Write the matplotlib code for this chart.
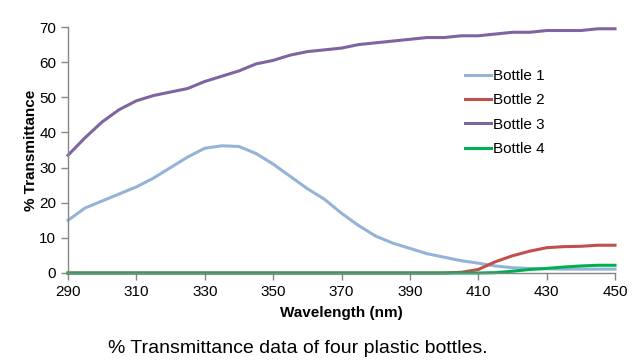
import matplotlib
matplotlib.use('Agg')
import matplotlib.pyplot as plt

# Wellenlängen (nm), 5-nm-Schritte
wavelength = [290, 295, 300, 305, 310, 315, 320, 325, 330, 335, 340, 345, 350,
              355, 360, 365, 370, 375, 380, 385, 390, 395, 400, 405, 410, 415,
              420, 425, 430, 435, 440, 445, 450]

bottle1 = [15.0, 18.5, 20.5, 22.5, 24.5, 27.0, 30.0, 33.0, 35.5, 36.2, 36.0, 34.0, 31.0,
           27.5, 24.0, 21.0, 17.0, 13.5, 10.5, 8.5, 7.0, 5.5, 4.5, 3.5, 2.8, 2.0,
           1.5, 1.3, 1.2, 1.1, 1.1, 1.1, 1.1]
bottle2 = [0, 0, 0, 0, 0, 0, 0, 0, 0, 0, 0, 0, 0,
           0, 0, 0, 0, 0, 0, 0, 0, 0, 0, 0.2, 1.0, 3.2,
           4.9, 6.2, 7.2, 7.5, 7.6, 7.9, 7.9]
bottle3 = [33.5, 38.5, 43.0, 46.5, 49.0, 50.5, 51.5, 52.5, 54.5, 56.0, 57.5, 59.5, 60.5,
           62.0, 63.0, 63.5, 64.0, 65.0, 65.5, 66.0, 66.5, 67.0, 67.0, 67.5, 67.5, 68.0,
           68.5, 68.5, 69.0, 69.0, 69.0, 69.5, 69.5]
bottle4 = [0, 0, 0, 0, 0, 0, 0, 0, 0, 0, 0, 0, 0,
           0, 0, 0, 0, 0, 0, 0, 0, 0, 0, 0, 0, 0.1,
           0.5, 1.0, 1.3, 1.7, 2.0, 2.2, 2.2]

series = [('Bottle 1', bottle1, '#95B3D7'),
          ('Bottle 2', bottle2, '#C0504D'),
          ('Bottle 3', bottle3, '#8064A2'),
          ('Bottle 4', bottle4, '#00B050')]

plt.rcParams['font.family'] = ['Liberation Sans', 'DejaVu Sans']

fig = plt.figure(figsize=(6.33, 3.64), dpi=100)
ax = fig.add_axes([0.1074, 0.25, 0.8642, 0.6758])

for name, vals, color in series:
    ax.plot(wavelength, vals, color=color, lw=2.2, label=name, clip_on=False)

ax.set_xlim(290, 450)
ax.set_ylim(0, 70)
ax.set_xticks(range(290, 451, 20))
ax.set_yticks(range(0, 71, 10))
ax.tick_params(labelsize=11, color='#868686', length=5, width=1)

for side in ['top', 'right']:
    ax.spines[side].set_visible(False)
for side in ['left', 'bottom']:
    ax.spines[side].set_color('#868686')
    ax.spines[side].set_linewidth(1)

ax.set_xlabel('Wavelength (nm)', fontsize=11, fontweight='bold', labelpad=5)
ax.set_ylabel('% Transmittance', fontsize=11, fontweight='bold', labelpad=1)

ax.legend(loc='upper left', bbox_to_anchor=(0.70, 0.885), frameon=False,
          fontsize=11, handlelength=1.7, handletextpad=0.15, labelspacing=0.68)

fig.text(0.47, 0.042, '% Transmittance data of four plastic bottles.',
         ha='center', va='center', fontsize=14)

fig.savefig('out.png', dpi=100)
